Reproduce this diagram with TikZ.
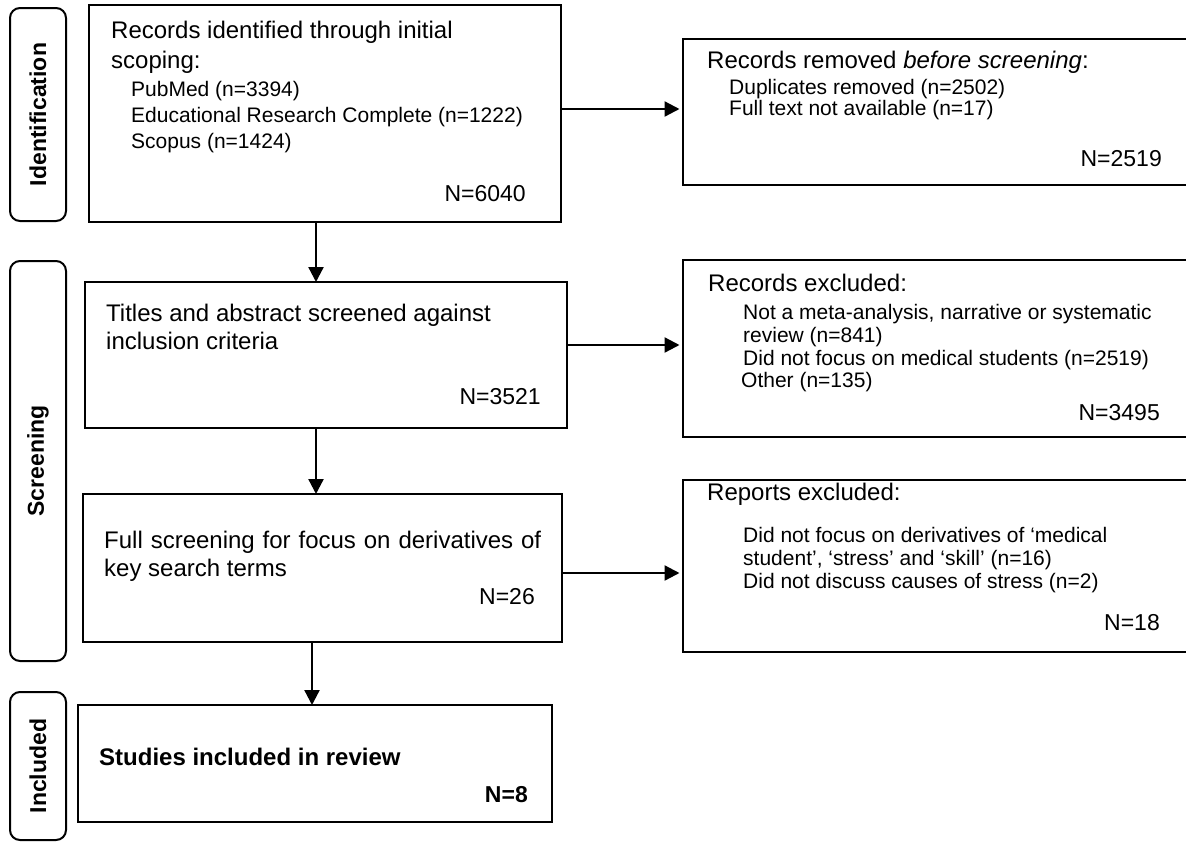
\documentclass[tikz,border=0pt]{standalone}
\usepackage{fontspec}
\setmainfont{Liberation Sans}
\usetikzlibrary{arrows.meta,calc}
\begin{document}
\begin{tikzpicture}[x=1pt,y=-1pt,
  box/.style={draw, line width=2.3pt, anchor=north west, inner sep=0pt, outer sep=0pt},
  stagebox/.style={draw, line width=2pt, rounded corners=10pt, anchor=north west, inner sep=0pt, outer sep=0pt, minimum width=56pt},
  stagetext/.style={font=\fontsize{23}{28}\selectfont\bfseries, rotate=90, inner sep=0pt},
  main/.style={anchor=base west, inner sep=0pt, font=\fontsize{24}{30}\selectfont},
  sub/.style={anchor=base west, inner sep=0pt, font=\fontsize{21}{23}\selectfont},
  total/.style={anchor=base east, inner sep=0pt, font=\fontsize{23}{28}\selectfont},
  arr/.style={line width=2.3pt, -{Triangle[length=15pt,width=15pt]}},
]
\useasboundingbox (0,0) rectangle (1186,841);

% stage labels
\node[stagebox, minimum height=213pt] (s1) at (10,8) {};
\node[stagetext] (s1t) at (s1.center) {Identification};
\node[stagebox, minimum height=400pt] (s2) at (10,261) {};
\node[stagetext] (s2t) at (s2.center) {Screening};
\node[stagebox, minimum height=148pt] (s3) at (10,692) {};
\node[stagetext] (s3t) at (s3.center) {Included};

% main boxes
\node[box, minimum width=472pt, minimum height=217pt] (b1) at (89,5) {};
\node[box, minimum width=482pt, minimum height=146pt] (b2) at (85,282) {};
\node[box, minimum width=479pt, minimum height=148pt] (b3) at (83,494) {};
\node[box, minimum width=474pt, minimum height=117pt] (b4) at (78,705) {};

% side boxes
\node[box, minimum width=510pt, minimum height=146pt] (r1) at (683,39) {};
\node[box, minimum width=510pt, minimum height=177pt] (r2) at (683,260) {};
\node[box, minimum width=510pt, minimum height=172pt] (r3) at (683,480) {};

% texts box 1
\node[main] (t11) at (111,38) {Records identified through initial};
\node[main] (t12) at (111,68) {scoping:};
\node[sub] (t13) at (131,96) {PubMed (n=3394)};
\node[sub] (t14) at (131,122) {Educational Research Complete (n=1222)};
\node[sub] (t15) at (131,148) {Scopus (n=1424)};
\node[total] (n1) at (526,201) {N=6040};

% texts r1
\node[main] (u11) at (707,68) {Records removed \textit{before screening}:};
\node[sub] (u12) at (729,94) {Duplicates removed (n=2502)};
\node[sub] (u13) at (729,115) {Full text not available (n=17)};
\node[total] (m1) at (1162,166) {N=2519};

% texts box 2
\node[main] (t21) at (106,321) {Titles and abstract screened against};
\node[main] (t22) at (106,349) {inclusion criteria};
\node[total] (n2) at (541,404) {N=3521};

% texts r2
\node[main] (u21) at (708,291) {Records excluded:};
\node[sub] (u22) at (743,319) {Not a meta-analysis, narrative or systematic};
\node[sub] (u23) at (743,342) {review (n=841)};
\node[sub] (u24) at (743,365) {Did not focus on medical students (n=2519)};
\node[sub] (u25) at (741,387) {Other (n=135)};
\node[total] (m2) at (1160,420) {N=3495};

% texts box 3
\node[main] (t31) at (104,548) {\makebox[437pt][s]{Full screening for focus on derivatives of}};
\node[main] (t32) at (104,576) {key search terms};
\node[total] (n3) at (535,604) {N=26};

% texts r3
\node[main] (u31) at (707,500) {Reports excluded:};
\node[sub] (u32) at (743,542) {Did not focus on derivatives of ‘medical};
\node[sub] (u33) at (743,565) {student’, ‘stress’ and ‘skill’ (n=16)};
\node[sub] (u34) at (743,588) {Did not discuss causes of stress (n=2)};
\node[total] (m3) at (1160,630) {N=18};

% texts box 4
\node[main, font=\fontsize{24}{30}\selectfont\bfseries] (t41) at (99,765) {Studies included in review};
\node[total, font=\fontsize{23}{28}\selectfont\bfseries] (n4) at (528,802) {N=8};

% connectors
\draw[arr, shorten >=3.5pt] ([yshift=4.5pt]b1.east) -- ([yshift=4.5pt]b1.east -| r1.west);
\draw[arr] ([xshift=-9pt]b1.south) -- ([xshift=-9pt]b1.south |- b2.north);
\draw[arr, shorten >=3.5pt] ([yshift=10pt]b2.east) -- ([yshift=10pt]b2.east -| r2.west);
\draw[arr] ([xshift=-10pt]b2.south) -- ([xshift=-10pt]b2.south |- b3.north);
\draw[arr, shorten >=3.5pt] ([yshift=-5pt]b3.east) -- ([yshift=-5pt]b3.east -| r3.west);
\draw[arr] ([xshift=-10.5pt]b3.south) -- ([xshift=-10.5pt]b3.south |- b4.north);
\end{tikzpicture}
\end{document}
